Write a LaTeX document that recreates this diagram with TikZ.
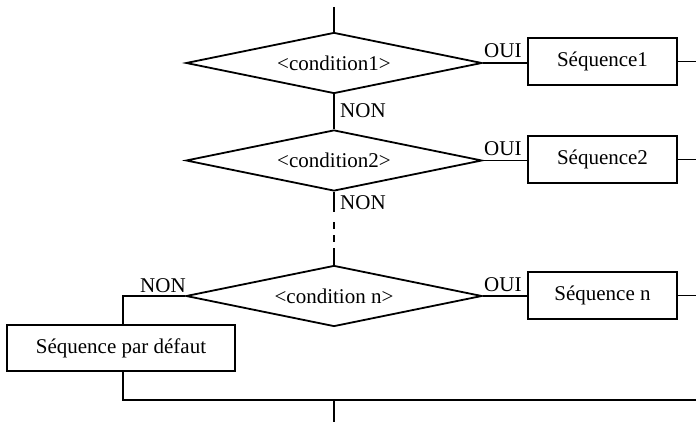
\documentclass[tikz,border=0pt]{standalone}
\usepackage{fontspec}
\setmainfont{Liberation Serif}
\usetikzlibrary{shapes.geometric}
\begin{document}
\begin{tikzpicture}[x=1pt,y=-1pt,
  every node/.style={font=\fontsize{21}{25}\selectfont},
  flow/.style={line width=1.8pt},
  decision/.style={diamond, draw, line width=1.8pt, inner sep=0pt,
    minimum width=296pt, minimum height=61pt, aspect=4.85},
  seqbox/.style={rectangle, draw, line width=1.8pt, inner sep=0pt,
    minimum width=149pt, minimum height=47pt},
  lbl/.style={anchor=base west, inner sep=0pt}]
\useasboundingbox (0,0) rectangle (696,422);

% decisions
\node[decision] (c1) at (334,63) {<condition1>};
\node[decision] (c2) at (334,160.5) {<condition2>};
\node[decision] (cn) at (334,296) {<condition n>};

% sequences
\node[seqbox] (s1) at (602.5,61.5) {Séquence1};
\node[seqbox] (s2) at (602.5,159.5) {Séquence2};
\node[seqbox] (sn) at (602.5,295.5) {Séquence n};
\node[seqbox, minimum width=228pt, minimum height=46pt] (sd) at (121,348) {Séquence par défaut};

% helper points
\coordinate (top) at (334,7);
\coordinate (edge) at (696,0);
\coordinate (nl) at (123,296);
\coordinate (bl) at (123,400);
\coordinate (br) at (696,400);
\coordinate (bm) at (334,400);
\coordinate (bot) at (334,422);

% connectors
\draw[flow] (top) -- (c1.north);
\draw[flow] (c1.south) -- (c2.north);
\draw[flow, dash pattern=on 20.5pt off 10pt on 6.5pt off 6.5pt on 6.5pt off 6.5pt on 40pt]
  (c2.south) -- (cn.north);
\draw[flow] (c1.east) -- (c1.east -| s1.west);
\draw[flow] (c2.east) -- (c2.east -| s2.west);
\draw[flow] (cn.east) -- (cn.east -| sn.west);
\draw[flow] (s1.east) -- (s1.east -| edge);
\draw[flow] (s2.east) -- (s2.east -| edge);
\draw[flow] (sn.east) -- (sn.east -| edge);
\draw[flow] (cn.west) -- (nl) -- (nl |- sd.north);
\draw[flow] (nl |- sd.south) -- (bl) -- (br);
\draw[flow] (bm) -- (bot);

% branch labels
\node[lbl] (oui1) at (484,58) {OUI};
\node[lbl] (oui2) at (484,156) {OUI};
\node[lbl] (ouin) at (484,291) {OUI};
\node[lbl] (non1) at (340,118) {NON};
\node[lbl] (non2) at (340,210) {NON};
\node[lbl] (nonn) at (140,292) {NON};
\end{tikzpicture}
\end{document}
